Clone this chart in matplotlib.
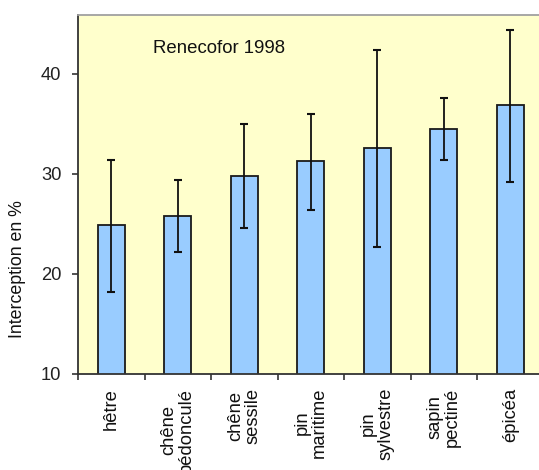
import numpy as np
import matplotlib.pyplot as plt

plt.rcParams['font.family'] = ['Liberation Sans', 'DejaVu Sans']

# essences et interception moyenne (%) avec bornes des barres d'erreur
essences = ['hêtre', 'chêne\npédonculé', 'chêne\nsessile', 'pin\nmaritime',
            'pin\nsylvestre', 'sapin\npectiné', 'épicéa']
interception = [24.9, 25.8, 29.8, 31.3, 32.6, 34.5, 36.9]
err_haut = [31.4, 29.4, 35.0, 36.0, 42.4, 37.6, 44.4]
err_bas = [18.2, 22.2, 24.6, 26.4, 22.7, 31.4, 29.2]


def plot_interception():
    x = np.arange(len(essences))
    vals = np.array(interception)
    yerr = [vals - np.array(err_bas), np.array(err_haut) - vals]

    fig = plt.figure(figsize=(5.39, 4.70), dpi=100)
    ax = fig.add_axes([78 / 539, 96 / 470, 465.5 / 539, 359 / 470])
    ax.set_facecolor('#FFFFCC')

    ax.bar(x, vals, width=0.4, bottom=0, color='#99CCFF',
           edgecolor='#1a1a1a', linewidth=1.3, zorder=2)
    ax.errorbar(x, vals, yerr=yerr, fmt='none', ecolor='#111111',
                elinewidth=1.3, capsize=3, capthick=1.5, zorder=3)

    ax.set_xlim(-0.5, len(essences) - 0.5)
    ax.set_ylim(10, 45.9)
    ax.set_yticks([10, 20, 30, 40])

    ax.set_xticks(x)
    ax.set_xticklabels(essences, rotation=90, fontsize=13.2,
                       linespacing=1.05, color='#111111')
    ax.set_xticks(np.arange(-0.5, len(essences), 1.0), minor=True)
    ax.tick_params(axis='x', which='major', length=0, pad=10)
    ax.tick_params(axis='x', which='minor', length=4, width=1.1, color='#222222')
    ax.tick_params(axis='y', length=4, width=1.1, pad=8, labelsize=13.2,
                   color='#222222', labelcolor='#222222')

    ax.spines['top'].set_color('#A0A0A0')
    ax.spines['top'].set_linewidth(1.3)
    ax.spines['right'].set_color('#A0A0A0')
    for s in ['left', 'bottom']:
        ax.spines[s].set_color('#333333')
        ax.spines[s].set_linewidth(1.3)

    ax.text(0.162, 0.908, 'Renecofor 1998', transform=ax.transAxes,
            fontsize=13.4, color='#111111', ha='left', va='center')
    fig.text(18 / 539, 1 - 269 / 470, 'Interception en %', rotation=90,
             fontsize=12.8, color='#111111', ha='center', va='center')

    fig.savefig('out.png', dpi=100)


plot_interception()
